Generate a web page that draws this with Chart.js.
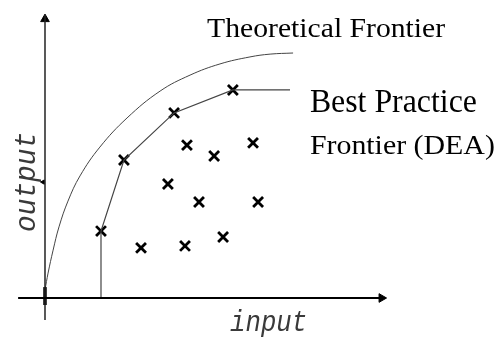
<!DOCTYPE html>
<html>
<head>
<meta charset="utf-8">
<script src="https://cdn.jsdelivr.net/npm/chart.js@4.4.0/dist/chart.umd.min.js"></script>
<style>
  body { margin: 0; background: #fff; }
</style>
</head>
<body>
<canvas id="frontier" width="496" height="340"></canvas>
<script>
// observed units (input, output)
var dmu_input  = [2.0, 2.82, 4.61, 6.71, 5.07, 6.04, 7.43, 4.39, 5.5, 7.61, 3.43, 5.0, 6.36];
var dmu_output = [2.39, 4.93, 6.61, 7.43, 5.46, 5.07, 5.54, 4.07, 3.43, 3.43, 1.79, 1.86, 2.18];

// best practice frontier (DEA) envelope
var dea_input  = [2.0, 2.0, 2.82, 4.61, 6.71, 8.75];
var dea_output = [0, 2.39, 4.93, 6.61, 7.43, 7.43];

// theoretical frontier
var theory_input  = [0, 0.11, 0.29, 0.5, 0.82, 1.25, 1.96, 2.93, 4.11, 5.18, 6.25, 7.32, 8.04, 8.86];
var theory_output = [0.29, 0.89, 1.71, 2.54, 3.46, 4.36, 5.39, 6.43, 7.39, 7.96, 8.36, 8.61, 8.71, 8.75];

// where the drawn axes start and end
var x_axis_range = [-0.96, 12.14];
var y_axis_range = [-0.79, 10.11];

var axis_labels = ["input", "output"];
var frontier_labels = ["Theoretical Frontier", "Best Practice", "Frontier (DEA)"];

function toPoints(xs, ys) {
  var pts = [];
  for (var i = 0; i < xs.length; i++) {
    pts.push({ x: xs[i], y: ys[i] });
  }
  return pts;
}

// labels are drawn on the canvas at data positions
var labelPlugin = {
  id: 'frontierLabels',
  afterDatasetsDraw: function(chart) {
    var ctx = chart.ctx;
    var sx = chart.scales.x, sy = chart.scales.y;

    function put(text, x, y, font, width, color, rot) {
      ctx.save();
      ctx.font = font;
      ctx.fillStyle = color;
      ctx.textAlign = 'left';
      ctx.textBaseline = 'alphabetic';
      ctx.translate(sx.getPixelForValue(x), sy.getPixelForValue(y));
      if (rot) ctx.rotate(rot);
      ctx.scale(width / ctx.measureText(text).width, 1);
      ctx.fillText(text, 0, 0);
      ctx.restore();
    }

    put(frontier_labels[0], 5.79, 9.32, '28px "Liberation Serif"', 238, '#000');
    put(frontier_labels[1], 9.46, 6.64, '33px "Liberation Serif"', 167, '#000');
    put(frontier_labels[2], 9.46, 5.14, '28px "Liberation Serif"', 185, '#000');
    put(axis_labels[0], 6.61, -1.18, 'italic 29px "Liberation Mono"', 77, '#3a3a3a');
    put(axis_labels[1], -0.36, 2.36, 'italic 29px "Liberation Mono"', 100, '#3a3a3a', -Math.PI / 2);
  }
};

var chartdata = {
  datasets: [
    {
      // x axis
      data: [{ x: x_axis_range[0], y: 0 }, { x: x_axis_range[1], y: 0 }],
      showLine: true, borderColor: '#000', borderWidth: 2, pointRadius: 0
    },
    {
      // y axis
      data: [{ x: 0, y: y_axis_range[0] }, { x: 0, y: y_axis_range[1] }],
      showLine: true, borderColor: '#222', borderWidth: 1.5, pointRadius: 0
    },
    {
      // arrow heads and the small tick on the output axis
      data: [{ x: x_axis_range[1] - 0.12, y: 0 }, { x: 0, y: y_axis_range[1] - 0.15 }, { x: -0.07, y: 4.14 }],
      pointStyle: 'triangle', rotation: [90, 0, -90], pointRadius: [5, 5, 2.5],
      backgroundColor: '#000', borderColor: '#000', borderWidth: 1
    },
    {
      // heavy mark at the origin
      data: [{ x: 0, y: -0.25 }, { x: 0, y: 0.39 }],
      showLine: true, borderColor: '#000', borderWidth: 3.5, pointRadius: 0
    },
    {
      label: 'Theoretical Frontier',
      data: toPoints(theory_input, theory_output),
      showLine: true, lineTension: 0.4,
      borderColor: '#444', borderWidth: 1, pointRadius: 0
    },
    {
      label: 'Best Practice Frontier (DEA)',
      data: toPoints(dea_input, dea_output),
      showLine: true, lineTension: 0,
      borderColor: '#444', borderWidth: 1.2, pointRadius: 0
    },
    {
      label: 'units',
      data: toPoints(dmu_input, dmu_output),
      pointStyle: 'crossRot', pointRadius: 7, borderWidth: 2.8,
      borderColor: '#000', backgroundColor: '#000'
    }
  ]
};

var ctx = document.getElementById('frontier');
var FrontierChart = new Chart(ctx, {
  type: 'scatter',
  data: chartdata,
  options: {
    responsive: false,
    animation: false,
    layout: { padding: 0, autoPadding: false },
    plugins: { legend: { display: false }, tooltip: { enabled: false } },
    scales: {
      x: { type: 'linear', display: false, min: -1.607, max: 16.107 },
      y: { type: 'linear', display: false, min: -1.5, max: 10.643 }
    }
  },
  plugins: [labelPlugin]
});
</script>
</body>
</html>
